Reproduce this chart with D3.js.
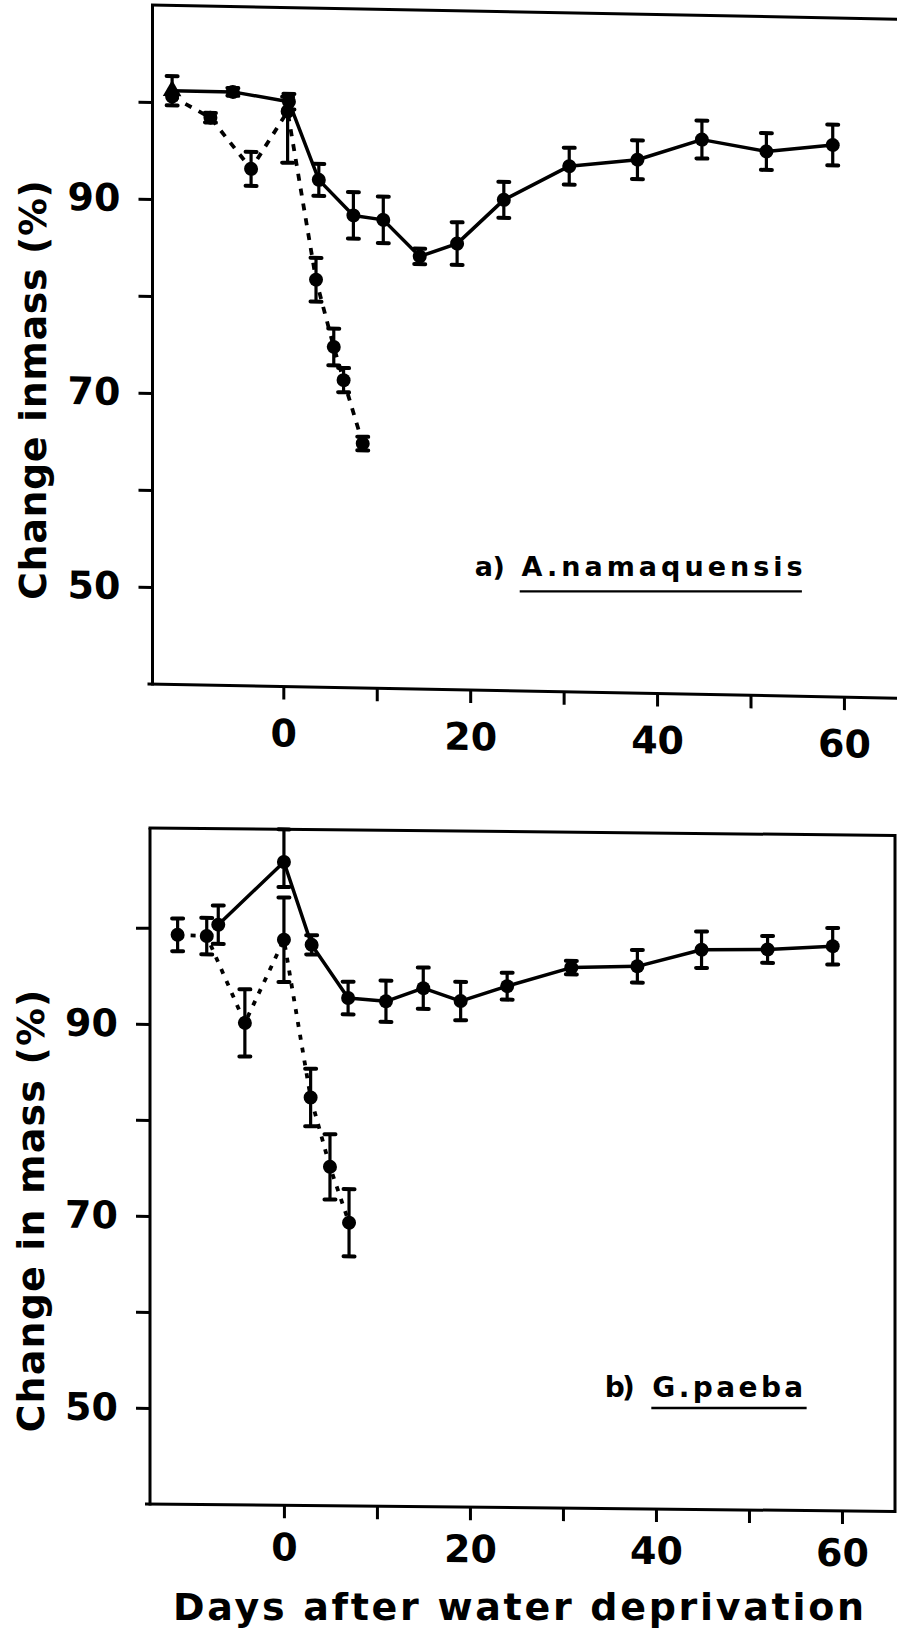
<!DOCTYPE html>
<html><head><meta charset="utf-8">
<script src="https://cdn.jsdelivr.net/npm/d3@7"></script>
<style>body{margin:0;background:#fff}svg{display:block}</style>
</head><body><svg id="c" width="897" height="1629"></svg>
<script>
// ---- shared axis ticks ----
const yTicks = [50, 60, 70, 80, 90, 100];
const yTickLabels = ["50", "", "70", "", "90", ""];
const xTicks = [0, 10, 20, 30, 40, 50, 60];
const xTickLabels = ["0", "", "20", "", "40", "", "60"];

// ---- panel a) A. namaquensis ----
const daysASolid = [-11.9, -5.4, 0.6, 3.8, 7.5, 10.7, 14.6, 18.6, 23.6, 30.6, 37.9, 44.8, 51.7, 58.8];
const massASolid = [101.2, 101.2, 100.3, 92.3, 88.7, 88.3, 84.6, 86.0, 90.6, 94.2, 95.0, 97.2, 96.1, 96.9];
const errASolidUp   = [1.5, 0.4, 0.8, 1.65, 2.4, 2.4, 0.8, 2.2, 1.85, 1.9, 2.0, 1.95, 1.9, 2.1];
const errASolidDown = [1.5, 0.4, 0.8, 1.65, 2.4, 2.4, 0.8, 2.2, 1.85, 1.9, 2.0, 1.95, 1.9, 2.1];
const shapeASolid = ["triangle","circle","circle","circle","circle","circle","circle","circle","circle","circle","circle","circle","circle","circle"];

const daysADashed = [-11.9, -7.8, -3.45, 0.46, 3.5, 5.4, 6.45, 8.5];
const massADashed = [100.6, 98.5, 93.3, 99.3, 82.0, 75.1, 71.7, 65.2];
const errADashedUp   = [0, 0.5, 1.75, 1.5, 2.25, 1.9, 1.25, 0.7];
const errADashedDown = [0, 0.5, 1.75, 5.3, 2.25, 1.9, 1.25, 0.7];

// ---- panel b) G. paeba ----
const daysBSolid = [-7.06, 0, 2.98, 6.9, 10.97, 14.98, 19.0, 24.0, 30.9, 38.0, 44.9, 52.0, 59.0];
const massBSolid = [100.4, 107.0, 98.4, 92.9, 92.6, 94.0, 92.7, 94.3, 96.3, 96.5, 98.3, 98.4, 98.8];
const errBSolidUp   = [2.0, 3.4, 1.0, 1.7, 2.15, 2.15, 2.0, 1.4, 0.7, 1.7, 1.9, 1.4, 1.9];
const errBSolidDown = [2.0, 2.6, 1.0, 1.7, 2.15, 2.15, 2.0, 1.4, 0.7, 1.7, 1.9, 1.4, 1.9];

const daysBDashed = [-11.43, -8.3, -4.2, 0, 2.87, 4.95, 7.0];
const massBDashed = [99.3, 99.2, 90.2, 98.9, 82.5, 75.3, 69.5];
const errBDashedUp   = [1.7, 1.9, 3.5, 4.4, 3.0, 3.4, 3.5];
const errBDashedDown = [1.7, 1.9, 3.5, 4.4, 3.0, 3.4, 3.5];

const FONT = "DejaVu Sans";
const svg = d3.select("#c");
svg.append("rect").attr("width", 897).attr("height", 1629).attr("fill", "#fff");

function panel(cfg) {
  const x = cfg.x, y = cfg.y;
  const x0 = x.range()[0];
  const deg = Math.atan(cfg.skew) * 180 / Math.PI;
  const g = svg.append("g")
    .attr("transform", `translate(${x0},0) skewY(${deg}) translate(${-x0},0)`);

  const yMin = y.domain()[0], yMax = y.domain()[1];
  const xRight = cfg.xRightEnd;

  // frame
  const frame = g.append("g").attr("stroke", "#000").attr("stroke-width", 3).attr("fill", "none");
  frame.append("line").attr("x1", x0).attr("x2", x0).attr("y1", y(yMax)).attr("y2", y(yMin) + 1.5);
  frame.append("line").attr("x1", x0 - 5).attr("x2", xRight).attr("y1", y(yMin)).attr("y2", y(yMin));
  frame.append("line").attr("x1", x0 - 1.5).attr("x2", xRight).attr("y1", y(yMax)).attr("y2", y(yMax));
  if (cfg.rightBorder) {
    frame.append("line").attr("x1", xRight).attr("x2", xRight).attr("y1", y(yMax) - 1.5).attr("y2", y(yMin) + 1.5);
  }

  // y axis
  const gy = g.append("g").attr("transform", `translate(${x0},0)`)
    .call(d3.axisLeft(y).tickValues(yTicks).tickSize(14).tickPadding(cfg.yPad)
      .tickFormat((d, i) => yTickLabels[i]));
  gy.select(".domain").remove();
  gy.selectAll("line").attr("stroke", "#000").attr("stroke-width", 3);
  gy.selectAll("text").attr("font-family", FONT).attr("font-weight", "bold")
    .attr("font-size", 38).attr("fill", "#000");

  // x axis
  const gx = g.append("g").attr("transform", `translate(0,${y(yMin)})`)
    .call(d3.axisBottom(x).tickValues(xTicks).tickSize(13).tickPadding(cfg.xPad)
      .tickFormat((d, i) => xTickLabels[i]));
  gx.select(".domain").remove();
  gx.selectAll("line").attr("stroke", "#000").attr("stroke-width", 3);
  gx.selectAll("text").attr("font-family", FONT).attr("font-weight", "bold")
    .attr("font-size", 38).attr("fill", "#000");

  const line = d3.line().x(d => x(d.d)).y(d => y(d.v));

  function series(s, dash) {
    const pts = s.days.map((d, i) => ({ d, v: s.vals[i], up: s.up[i], down: s.down[i], shape: s.shapes ? s.shapes[i] : "circle" }));
    g.append("path").datum(pts).attr("d", line).attr("fill", "none").attr("stroke", "#000")
      .attr("stroke-width", dash ? 3.8 : 3.5).attr("stroke-dasharray", dash || null)
      .attr("stroke-linejoin", "round");
    const eb = g.append("g").attr("stroke", "#000");
    pts.filter(p => p.up > 0 || p.down > 0).forEach(p => {
      const cx = x(p.d);
      eb.append("line").attr("x1", cx).attr("x2", cx).attr("y1", y(p.v + p.up)).attr("y2", y(p.v - p.down)).attr("stroke-width", 3.2);
      [p.v + p.up, p.v - p.down].forEach(v => {
        eb.append("line").attr("x1", cx - 5.5).attr("x2", cx + 5.5).attr("y1", y(v)).attr("y2", y(v))
          .attr("stroke-width", 4).attr("stroke-linecap", "round");
      });
    });
    pts.forEach(p => {
      if (p.shape === "triangle") {
        g.append("path").attr("d", d3.symbol(d3.symbolTriangle, 150)())
          .attr("transform", `translate(${x(p.d)},${y(p.v)})`).attr("fill", "#000");
      } else {
        g.append("circle").attr("cx", x(p.d)).attr("cy", y(p.v)).attr("r", 7).attr("fill", "#000");
      }
    });
  }
  series(cfg.dashed, cfg.dash);
  series(cfg.solid, null);

  // species label (unskewed)
  const L = cfg.label;
  svg.append("text").attr("x", x(L.prefixAt[0])).attr("y", y(L.prefixAt[1]))
    .attr("font-family", FONT).attr("font-weight", "bold").attr("font-size", L.size)
    .attr("textLength", L.prefixLen).attr("lengthAdjust", "spacing").text(L.prefix);
  svg.append("text").attr("x", x(L.nameAt[0])).attr("y", y(L.nameAt[1]))
    .attr("font-family", FONT).attr("font-weight", "bold").attr("font-size", L.size)
    .attr("textLength", L.nameLen).attr("lengthAdjust", "spacing").text(L.name);
  svg.append("line").attr("x1", x(L.under[0])).attr("x2", x(L.under[1]))
    .attr("y1", y(L.under[2])).attr("y2", y(L.under[2])).attr("stroke", "#000").attr("stroke-width", 2.4);

  // y title
  svg.append("text").attr("transform", `translate(${cfg.yTitle.x},${cfg.yTitle.y}) rotate(-90)`)
    .attr("text-anchor", "middle").attr("font-family", FONT).attr("font-weight", "bold")
    .attr("font-size", 38).attr("textLength", cfg.yTitle.len).attr("lengthAdjust", "spacing")
    .text(cfg.yTitle.text);
}

// panel a
const xA = d3.scaleLinear().domain([-14, 66]).range([152.5, 900]);
const yA = d3.scaleLinear().domain([40, 110]).range([684, 5]);
panel({
  x: xA, y: yA, skew: 0.019, xRightEnd: 900, rightBorder: false, yPad: 18, xPad: 20,
  solid: { days: daysASolid, vals: massASolid, up: errASolidUp, down: errASolidDown, shapes: shapeASolid },
  dashed: { days: daysADashed, vals: massADashed, up: errADashedUp, down: errADashedDown },
  dash: "7,8",
  label: { prefix: "a)", prefixAt: [20.5, 51.1], prefixLen: 30, name: "A.namaquensis", nameAt: [25.5, 51.1], nameLen: 281, under: [25.3, 55.5, 49.55], size: 27 },
  yTitle: { x: 46, y: 390, len: 420, text: "Change inmass (%)" }
});

// panel b
const xB = d3.scaleLinear().domain([-14.4, 65.7]).range([150, 895]);
const yB = d3.scaleLinear().domain([40, 110.4]).range([1504, 828]);
panel({
  x: xB, y: yB, skew: 0.01, xRightEnd: 895, rightBorder: true, yPad: 18, xPad: 15,
  solid: { days: daysBSolid, vals: massBSolid, up: errBSolidUp, down: errBSolidDown },
  dashed: { days: daysBDashed, vals: massBDashed, up: errBDashedUp, down: errBDashedDown },
  dash: "5,8",
  label: { prefix: "b)", prefixAt: [34.5, 51.15], prefixLen: 30, name: "G.paeba", nameAt: [39.6, 51.15], nameLen: 151, under: [39.5, 56.2, 50.0], size: 28 },
  yTitle: { x: 44, y: 1211, len: 443, text: "Change in mass (%)" }
});

// x title
svg.append("text").attr("x", 518.5).attr("y", 1620).attr("text-anchor", "middle")
  .attr("font-family", FONT).attr("font-weight", "bold").attr("font-size", 38)
  .attr("textLength", 691).attr("lengthAdjust", "spacing")
  .text("Days after water deprivation");
</script></body></html>
